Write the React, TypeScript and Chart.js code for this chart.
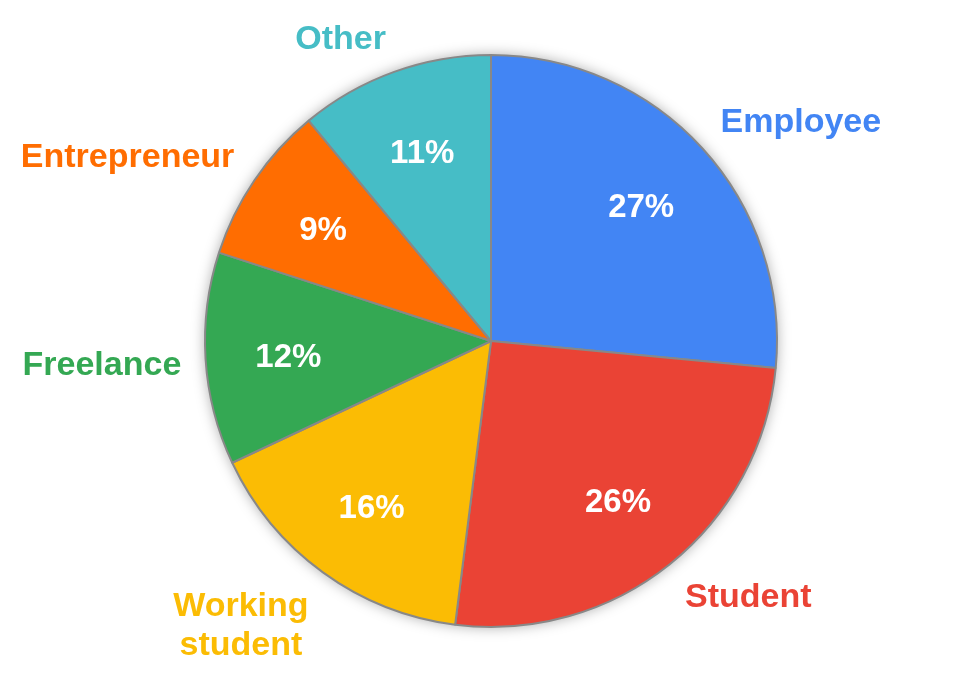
import React, { useEffect, useRef } from "react";
import { Chart, registerables } from "chart.js";

Chart.register(...registerables);

const categories = ["Employee", "Student", "Working student", "Freelance", "Entrepreneur", "Other"];
const values = [26.5, 25.5, 16, 12, 9, 11];
const colors = ["#4285F4", "#EA4335", "#FBBC04", "#34A853", "#FF6D01", "#46BDC6"];
const labelLines = [["Employee"], ["Student"], ["Working", "student"], ["Freelance"], ["Entrepreneur"], ["Other"]];

const FONT = "bold 34px 'Liberation Sans', Arial, sans-serif";
const CAP = 24;
const LINE_H = 39;

const shadowPlugin = {
  id: "pieShadow",
  beforeDatasetsDraw(chart: any) {
    const meta = chart.getDatasetMeta(0);
    const arc = meta.data[0];
    if (!arc) return;
    const ctx = chart.ctx;
    ctx.save();
    ctx.shadowColor = "rgba(0,0,0,0.35)";
    ctx.shadowBlur = 14;
    ctx.fillStyle = "#ffffff";
    ctx.beginPath();
    ctx.arc(arc.x, arc.y, arc.outerRadius, 0, Math.PI * 2);
    ctx.fill();
    ctx.restore();
  },
};

const labelPlugin = {
  id: "pieLabels",
  afterDatasetsDraw(chart: any) {
    const ctx = chart.ctx;
    const meta = chart.getDatasetMeta(0);
    ctx.save();
    ctx.textBaseline = "alphabetic";
    meta.data.forEach((arc: any, i: number) => {
      const mid = (arc.startAngle + arc.endAngle) / 2;
      const r = arc.outerRadius;
      const cx = arc.x;
      const cy = arc.y;
      const c = Math.cos(mid);
      const s = Math.sin(mid);
      // inner percentage
      ctx.font = "bold 33px 'Liberation Sans', Arial, sans-serif";
      ctx.fillStyle = "#ffffff";
      ctx.textAlign = "center";
      const ix = cx + c * r * 0.71;
      const iy = cy + s * r * 0.71;
      ctx.fillText(Math.round(values[i]) + "%", ix, iy + CAP / 2 + 1);
      // outer label: nearest corner of the text box on the mid ray
      ctx.font = FONT;
      const ax = cx + c * r * 1.085;
      const ay = cy + s * r * 1.085;
      const lines = labelLines[i];
      const h = CAP + (lines.length - 1) * LINE_H;
      const widths = lines.map((l) => ctx.measureText(l).width);
      const w = Math.max(...widths);
      const left = c > 0 ? ax : ax - w;
      const f = Math.sign(s) * Math.min(1, Math.abs(s) / 0.3);
      const top = ay - h / 2 + f * h / 2;
      ctx.fillStyle = colors[i];
      ctx.textAlign = "center";
      lines.forEach((l, k) => {
        ctx.fillText(l, left + w / 2, top + CAP + k * LINE_H);
      });
    });
    ctx.restore();
  },
};

export default function App() {
  const ref = useRef<HTMLCanvasElement>(null);
  useEffect(() => {
    document.body.style.margin = "0";
    const chart = new Chart(ref.current as HTMLCanvasElement, {
      type: "pie",
      data: {
        labels: categories,
        datasets: [
          {
            data: values,
            backgroundColor: colors,
            borderColor: "#888888",
            borderWidth: 2,
          },
        ],
      },
      options: {
        responsive: false,
        animation: false,
        layout: { padding: { left: 204, right: 192, top: 54, bottom: 51 } },
        plugins: { legend: { display: false }, tooltip: { enabled: false } },
      },
      plugins: [shadowPlugin, labelPlugin],
    });
    return () => chart.destroy();
  }, []);
  return (
    <div style={{ width: 970, height: 679, background: "#fff" }}>
      <canvas ref={ref} width={970} height={679} style={{ display: "block" }} />
    </div>
  );
}
